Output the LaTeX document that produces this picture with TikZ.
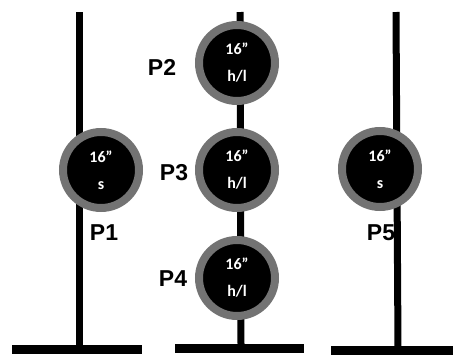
\documentclass[tikz,border=0pt]{standalone}
\usepackage{fontspec}
\setmainfont{Liberation Sans}
\newfontfamily\calfont{Carlito}
\usetikzlibrary{shadows}
\begin{document}
\begin{tikzpicture}[x=1pt,y=-1pt,
  pole/.style={line width=7pt},
  base/.style={line width=9pt},
  pipe/.style={circle,fill=black,draw=gray!90!black,line width=8pt,minimum size=76pt,inner sep=0pt,
    text=white,font=\calfont\bfseries\fontsize{16}{27}\selectfont,align=center,
    drop shadow={shadow xshift=1pt,shadow yshift=-2pt,opacity=0.25}},
  lbl/.style={font=\bfseries\fontsize{23}{23}\selectfont}]
\useasboundingbox (0,0) rectangle (453,354);
% poles
\coordinate (t1) at (79,12); \coordinate (b1) at (79,346);
\coordinate (t2) at (240,12); \coordinate (b2) at (241,344);
\coordinate (t3) at (396,12); \coordinate (b3) at (398,348);
\draw[pole] (t1) -- (b1);
\draw[pole] (t2) -- (b2);
\draw[pole] (t3) -- (b3);
% bases
\coordinate (l1) at (12,349.5); \coordinate (r1) at (142,349.5);
\coordinate (l2) at (175,348); \coordinate (r2) at (304,348);
\coordinate (l3) at (331,350.5); \coordinate (r3) at (453,350.5);
\draw[base] (l1) -- (r1);
\draw[base] (l2) -- (r2);
\draw[base] (l3) -- (r3);
% pipes
\node[pipe] (p1) at (101,170) {16”\\s};
\node[pipe] (p2) at (237,63) {16”\\h/l};
\node[pipe] (p3) at (237,170) {16”\\h/l};
\node[pipe] (p4) at (237,278) {16”\\h/l};
\node[pipe] (p5) at (380,169) {16”\\s};
% labels
\node[lbl] (n1) at (104,233) {P1};
\node[lbl] (n2) at (162,67) {P2};
\node[lbl] (n3) at (174,173) {P3};
\node[lbl] (n4) at (173,279) {P4};
\node[lbl] (n5) at (381,233) {P5};
\end{tikzpicture}
\end{document}
